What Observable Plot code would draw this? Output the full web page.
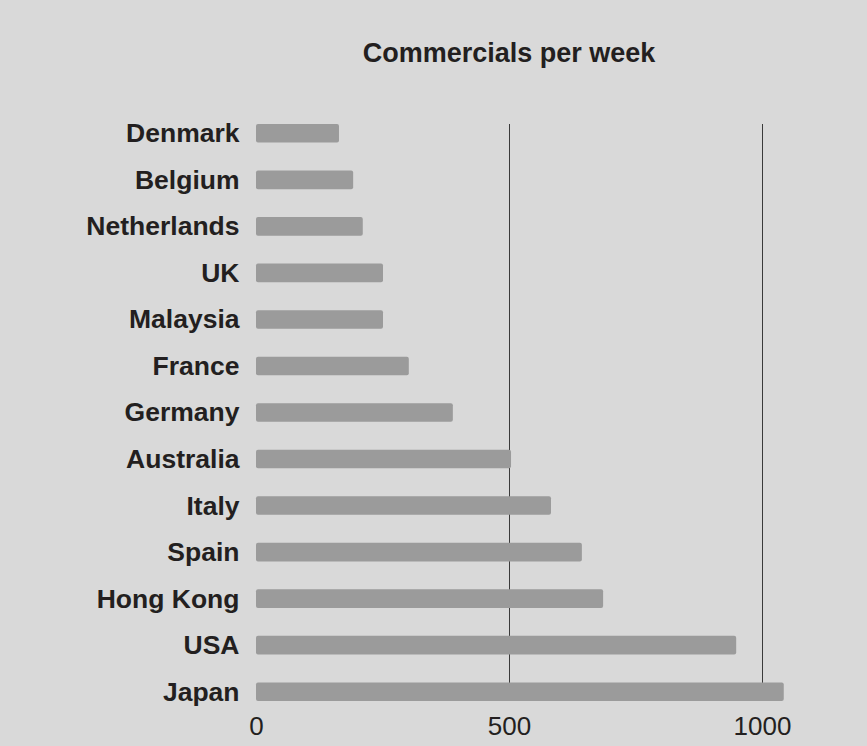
<!DOCTYPE html>
<html>
<head>
<meta charset="utf-8">
<script src="https://cdn.jsdelivr.net/npm/d3@7"></script>
<script src="https://cdn.jsdelivr.net/npm/@observablehq/plot@0.6"></script>
<style>
  html, body { margin: 0; padding: 0; background: #d9d9d9; }
  #wrap { position: relative; width: 867px; height: 746px; background: #d9d9d9; overflow: hidden; }
  #title { position: absolute; left: 256px; width: 506px; top: 38px; text-align: center;
           font-family: "Liberation Sans", Arial, sans-serif; font-weight: bold; font-size: 27px; color: #231f20; line-height: 30px; }
  #chart { position: absolute; left: 0; top: 0; }
</style>
</head>
<body>
<div id="wrap">
  <div id="chart"></div>
  <div id="title">Commercials per week</div>
</div>
<script>
const countries = ["Denmark","Belgium","Netherlands","UK","Malaysia","France","Germany","Australia","Italy","Spain","Hong Kong","USA","Japan"];
const commercials = [164, 192, 211, 251, 251, 302, 389, 504, 583, 644, 686, 949, 1043];
const tickValues = [0, 500, 1000];
const gridValues = [500, 1000];

const data = countries.map((c, i) => ({country: c, value: commercials[i]}));

const plot = Plot.plot({
  width: 867,
  height: 746,
  marginLeft: 256,
  marginRight: 105,
  marginTop: 124,
  marginBottom: 45,
  style: {background: "#d9d9d9", fontFamily: "'Liberation Sans', Arial, sans-serif", color: "#231f20"},
  x: {domain: [0, 1000], ticks: tickValues, label: null},
  y: {domain: countries, paddingInner: 0.6, paddingOuter: 0, round: false, label: null},
  marks: [
    Plot.ruleX(gridValues, {stroke: "#3a3a3a", strokeWidth: 1}),
    Plot.barX(data, {y: "country", x: "value", fill: "#9b9b9b", rx: 2}),
    Plot.axisX({ticks: tickValues, tickFormat: d => String(d), tickSize: 0, tickPadding: 15, fontSize: 26, fill: "#231f20", label: null}),
    Plot.axisY({tickSize: 0, tickPadding: 17, fontSize: 26.5, fontWeight: "bold", fill: "#231f20", label: null})
  ]
});
document.getElementById("chart").appendChild(plot);
</script>
</body>
</html>
